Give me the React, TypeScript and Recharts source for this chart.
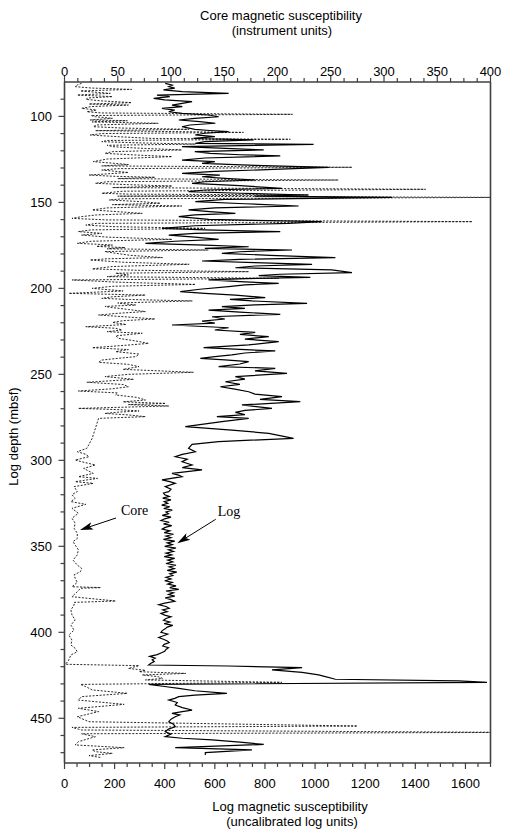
import React from 'react';
import { ComposedChart, Line, XAxis, YAxis } from 'recharts';

// [depth (mbsf), core susceptibility (instrument units)]
const coreSamples = [
  [80.8, 16], [81.7, 12], [82.7, 10], [83.5, 25], [84.3, 63], [85.2, 15], [85.9, 28], [86.6, 43],
  [87.6, 12], [88.5, 45], [89.3, 22], [90.1, 20], [91.0, 35], [92.0, 63], [92.8, 23], [93.4, 60],
  [94.3, 25], [95.3, 16], [96.3, 30], [97.3, 21], [98.0, 35], [98.8, 214], [99.5, 25], [100.2, 29],
  [101.1, 45], [102.1, 24], [102.5, 59], [103.2, 26], [104.0, 88], [105.0, 30], [106.0, 27], [106.8, 55],
  [107.5, 117], [108.3, 29], [109.3, 168], [110.0, 35], [110.8, 24], [111.8, 50], [112.8, 82], [113.3, 212],
  [114.0, 40], [114.7, 35], [115.4, 70], [116.1, 123], [116.8, 40], [117.6, 45], [118.5, 70], [119.5, 110],
  [120.5, 45], [121.5, 38], [122.4, 65], [123.4, 101], [124.8, 40], [126.3, 27], [127.2, 45], [128.0, 60],
  [128.8, 35], [129.6, 270], [130.4, 50], [131.2, 35], [132.6, 60], [134.1, 23], [134.8, 45], [135.4, 85],
  [136.2, 50], [137.0, 257], [138.0, 40], [138.9, 29], [139.7, 60], [140.5, 101], [141.4, 45], [142.4, 339],
  [143.5, 55], [144.7, 35], [145.2, 60], [145.7, 229], [146.4, 50], [147.1, 420], [147.9, 55], [148.6, 42],
  [149.5, 70], [150.5, 90], [151.3, 45], [152.1, 110], [153.2, 40], [154.4, 26], [155.4, 50], [156.4, 73],
  [157.3, 30], [158.3, 16], [159.3, 7], [160.2, 40], [161.2, 383], [162.2, 30], [163.2, 20], [164.1, 45],
  [165.1, 132], [166.0, 25], [167.0, 13], [168.0, 35], [169.0, 16], [170.2, 40], [171.5, 101], [172.6, 25],
  [173.8, 12], [174.8, 45], [175.6, 30], [176.3, 57], [177.0, 40], [177.7, 135], [178.6, 38], [179.6, 48],
  [180.8, 62], [182.1, 92], [182.8, 40], [183.5, 24], [184.8, 55], [186.0, 117], [187.3, 45], [188.7, 26],
  [189.5, 70], [190.3, 173], [191.2, 48], [192.2, 60], [193.2, 40], [194.2, 201], [195.1, 7], [196.4, 50],
  [197.7, 123], [198.8, 45], [200.0, 26], [201.5, 55], [202.9, 4], [203.9, 76], [204.9, 45], [205.8, 35],
  [206.5, 62], [207.3, 120], [208.5, 50], [209.7, 67], [210.5, 38], [211.2, 45], [212.3, 60], [213.5, 76],
  [214.5, 50], [215.5, 32], [216.6, 58], [217.8, 85], [218.8, 55], [219.8, 45], [221.0, 58], [222.3, 20],
  [223.2, 48], [224.2, 54], [225.2, 40], [226.1, 73], [227.6, 48], [229.1, 51], [230.5, 66], [232.0, 79],
  [233.2, 55], [234.5, 26], [235.6, 60], [236.8, 48], [238.2, 70], [239.7, 67], [240.7, 50], [241.7, 35],
  [243.0, 32], [244.2, 60], [245.5, 70], [247.1, 55], [248.8, 121], [250.0, 60], [251.3, 38], [252.9, 65],
  [254.6, 21], [255.9, 55], [257.2, 60], [258.4, 45], [259.7, 13], [260.8, 50], [262.0, 48], [263.4, 68],
  [264.9, 76], [266.0, 55], [266.9, 95], [267.6, 60], [268.4, 98], [269.8, 13], [270.5, 50], [271.3, 70],
  [272.0, 50], [272.7, 38], [273.6, 60], [274.6, 76], [275.6, 32], [287.2, 26], [293.0, 21], [295.0, 12],
  [296.5, 20], [297.9, 23], [299.8, 10], [300.8, 16], [302.7, 29], [304.7, 18], [307.6, 27], [309.5, 13],
  [310.5, 31], [312.4, 10], [313.4, 27], [315.3, 9], [318.2, 12], [320.0, 7], [322.1, 10], [324.0, 6],
  [325.6, 20], [327.9, 7], [330.8, 13], [333.7, 7], [336.5, 10], [339.5, 9], [342.5, 12], [345.4, 12],
  [347.3, 8], [349.2, 10], [352.0, 13], [355.0, 12], [358.0, 8], [360.9, 12], [362.8, 16], [364.7, 15],
  [366.6, 9], [368.6, 10], [371.0, 12], [373.5, 7], [374.0, 34], [374.4, 15], [376.4, 12], [379.3, 7],
  [381.8, 48], [382.6, 9], [384.1, 9], [387.0, 6], [389.9, 7], [392.8, 10], [395.8, 6], [398.7, 9],
  [401.6, 4], [404.5, 7], [407.4, 6], [409.3, 10], [411.3, 12], [413.2, 6], [416.1, 4], [418.6, 1],
  [419.4, 70], [421.0, 60], [422.1, 76], [422.9, 70], [423.9, 114], [424.8, 73], [425.8, 88], [426.8, 92],
  [427.7, 76], [429.1, 204], [430.3, 15], [431.6, 20], [433.5, 26], [435.5, 59], [437.4, 16], [439.4, 13],
  [441.9, 56], [444.2, 13], [446.1, 32], [449.1, 12], [452.0, 23], [454.5, 275], [455.3, 7], [456.8, 16],
  [458.2, 420], [459.0, 16], [460.7, 29], [463.6, 13], [465.5, 10], [467.1, 56], [468.4, 26], [469.4, 29],
  [470.4, 45], [471.7, 23], [472.9, 35],
];

// [depth (mbsf), log susceptibility (uncalibrated log units)]
const logSamples = [
  [80.8, 402], [81.8, 430], [82.7, 416], [83.6, 440], [84.6, 395], [85.6, 470], [86.6, 655], [87.6, 369],
  [88.5, 420], [89.5, 356], [90.4, 400], [91.4, 509], [92.4, 470], [93.4, 429], [94.3, 470], [95.3, 389],
  [96.3, 440], [97.3, 416], [98.2, 470], [99.2, 575], [100.2, 615], [101.1, 520], [102.1, 456], [103.0, 540],
  [104.0, 602], [105.0, 500], [106.0, 469], [107.5, 520], [108.2, 580], [108.9, 655], [109.8, 560], [110.8, 522],
  [111.8, 600], [112.8, 515], [113.7, 755], [114.7, 560], [115.7, 522], [116.3, 994], [117.6, 469], [118.5, 620],
  [119.5, 795], [120.5, 520], [121.5, 582], [122.3, 700], [123.0, 861], [124.2, 560], [125.4, 469], [126.3, 600],
  [127.3, 549], [128.5, 760], [129.6, 1054], [130.8, 835], [132.0, 600], [133.1, 469], [134.1, 620], [135.1, 549],
  [136.0, 640], [137.0, 761], [138.0, 560], [138.9, 509], [140.3, 700], [141.8, 868], [142.8, 560], [143.8, 495],
  [144.7, 700], [145.7, 974], [146.4, 760], [147.1, 1307], [148.3, 640], [149.6, 522], [150.8, 720], [152.1, 934],
  [153.2, 600], [154.4, 495], [155.4, 580], [156.4, 682], [157.3, 520], [158.3, 456], [159.9, 575], [161.2, 1027],
  [162.2, 894], [163.6, 520], [165.1, 389], [166.0, 560], [167.0, 861], [168.0, 520], [169.0, 416], [170.2, 520],
  [171.5, 615], [172.6, 440], [173.8, 323], [174.8, 560], [175.8, 735], [176.8, 560], [177.7, 908], [178.7, 700],
  [179.6, 628], [180.8, 820], [182.1, 1081], [183.1, 700], [184.1, 549], [185.0, 760], [186.0, 988], [187.0, 760],
  [188.0, 682], [189.3, 1067], [190.9, 1147], [191.8, 860], [192.6, 775], [193.6, 981], [194.3, 720], [195.1, 575],
  [196.1, 700], [197.1, 855], [198.0, 720], [199.0, 655], [200.5, 540], [201.9, 462], [202.9, 560], [203.9, 682],
  [205.4, 801], [206.4, 660], [207.3, 748], [208.7, 968], [209.6, 760], [210.6, 628], [211.6, 720], [212.6, 575],
  [213.8, 700], [215.1, 861], [216.5, 589], [217.8, 640], [219.0, 549], [220.2, 600], [221.3, 429], [222.9, 655],
  [224.2, 600], [225.6, 761], [226.8, 700], [228.1, 815], [229.5, 720], [231.0, 855], [232.9, 735], [234.5, 555],
  [235.5, 700], [236.4, 841], [237.6, 720], [238.7, 668], [239.7, 600], [240.7, 542], [241.6, 640], [242.6, 735],
  [244.0, 700], [245.5, 615], [246.5, 841], [248.0, 760], [249.4, 888], [251.3, 682], [252.8, 720], [254.3, 642],
  [255.8, 700], [257.2, 622], [258.6, 680], [260.1, 735], [261.5, 760], [263.0, 868], [264.5, 780], [265.9, 941],
  [267.8, 708], [269.8, 828], [271.0, 720], [272.1, 682], [273.4, 720], [274.6, 608], [275.6, 735], [277.5, 628],
  [280.4, 482], [282.4, 668], [284.3, 815], [287.2, 914], [289.1, 615], [290.7, 509], [293.0, 495], [295.0, 522],
  [296.5, 470], [297.9, 442], [299.3, 490], [300.8, 469], [302.7, 509], [304.2, 470], [305.6, 549], [307.6, 429],
  [308.6, 455], [309.5, 469], [311.4, 389], [312.4, 420], [313.4, 442], [315.3, 402], [316.8, 425], [318.2, 416],
  [319.0, 395], [320, 400], [321, 418], [322, 392], [323, 425], [324, 398], [325, 412], [326, 388],
  [327, 420], [328, 396], [329, 430], [330, 405], [331, 415], [332, 390], [333, 425], [334, 400],
  [335, 385], [336, 418], [337, 395], [338, 428], [339, 402], [340, 390], [341, 420], [342, 398],
  [343, 435], [344, 405], [345, 425], [346, 395], [347, 440], [348, 410], [349, 430], [350, 400],
  [351, 445], [352, 415], [353, 435], [354, 405], [355, 428], [356, 398], [357, 440], [358, 412],
  [359, 432], [360, 405], [361, 445], [362, 418], [363, 438], [364, 410], [365, 448], [366, 420],
  [367, 432], [368, 405], [369, 425], [370, 400], [371, 430], [372, 412], [373, 445], [374, 420],
  [375, 456], [376, 405], [377, 435], [378, 415], [379, 440], [380, 402], [381, 425], [382, 440],
  [383, 400], [384, 376], [385, 405], [386, 418], [387, 392], [388, 410], [389, 385], [390, 400],
  [391, 425], [392, 405], [393, 395], [394, 420], [395, 398], [396, 432], [397, 410], [398, 402],
  [399, 390], [400, 385], [401, 412], [402, 395], [403, 376], [404, 395], [405, 410], [406, 418],
  [407, 398], [408, 392], [409, 415], [410, 405], [411, 400], [412, 385], [413, 370], [414, 340],
  [415, 362], [416, 350], [417, 358], [418, 345], [419.0, 336], [419.6, 655], [420.5, 948], [421.9, 828],
  [423.3, 948], [424.8, 1014], [425.8, 1041], [427.3, 1081], [428.3, 1573], [429.1, 1686], [430.3, 336], [431.5, 400],
  [432.6, 456], [434.0, 520], [435.5, 648], [436.5, 520], [437.4, 456], [438.4, 440], [439.4, 416], [440.8, 450],
  [442.3, 442], [443.8, 470], [445.2, 509], [446.1, 470], [447.1, 429], [448.1, 460], [449.1, 442], [450.5, 425],
  [452.0, 416], [453.5, 435], [454.9, 442], [456.3, 415], [457.8, 402], [459.2, 425], [460.7, 402], [461.6, 470],
  [462.6, 589], [463.9, 700], [465.2, 795], [467.1, 442], [468.4, 748], [470.0, 562], [471.3, 562],
];

const coreLabels = [0, 50, 100, 150, 200, 250, 300, 350, 400];
const logLabels = [0, 200, 400, 600, 800, 1000, 1200, 1400, 1600];
const depthLabels = [100, 150, 200, 250, 300, 350, 400, 450];

const coreData = coreSamples.map(([depth, core]) => ({ depth, core }));
const logData = logSamples.map(([depth, log]) => ({ depth, log }));

function range(from: number, to: number, step: number) {
  const out: number[] = [];
  for (let v = from; v <= to + 1e-6; v += step) out.push(Math.round(v * 10) / 10);
  return out;
}
const coreTicks = range(0, 400, 12.5);
const logTicks = range(0, 1700, 50);
const depthTicks = range(90, 470, 10);

const AXIS = '#404040';
const SANS = '"Liberation Sans", Arial, Helvetica, sans-serif';
const SERIF = '"Liberation Serif", "Times New Roman", serif';

function TopTick(props: any) {
  const { x, y, payload } = props;
  const major = coreLabels.includes(payload.value);
  return (
    <g>
      <line x1={x} x2={x} y1={y} y2={y - (major ? 6.5 : 4)} stroke={AXIS} strokeWidth={1.2} />
      {major && (
        <text x={x} y={y - 6} textAnchor="middle" fontSize={13} fontFamily={SANS} fill="#000">
          {payload.value}
        </text>
      )}
    </g>
  );
}

function BottomTick(props: any) {
  const { x, y, payload } = props;
  const major = logLabels.includes(payload.value);
  return (
    <g>
      <line x1={x} x2={x} y1={y} y2={y + (major ? 6 : 4)} stroke={AXIS} strokeWidth={1.2} />
      {major && (
        <text x={x} y={y + 25} textAnchor="middle" fontSize={13} fontFamily={SANS} fill="#000">
          {payload.value}
        </text>
      )}
    </g>
  );
}

function LeftTick(props: any) {
  const { x, y, payload } = props;
  const major = depthLabels.includes(payload.value);
  return (
    <g>
      <line x1={x} x2={x - (major ? 6 : 4)} y1={y} y2={y} stroke={AXIS} strokeWidth={1.2} />
      {major && (
        <text x={x - 12.5} y={y + 4.6} textAnchor="end" fontSize={13} fontFamily={SANS} fill="#000">
          {payload.value}
        </text>
      )}
    </g>
  );
}

function RightTick(props: any) {
  const { x, y, payload } = props;
  const major = depthLabels.includes(payload.value);
  return <line x1={x} x2={x + (major ? 6 : 4)} y1={y} y2={y} stroke={AXIS} strokeWidth={1.2} />;
}

function Arrow({ x1, y1, x2, y2 }: { x1: number; y1: number; x2: number; y2: number }) {
  const len = Math.hypot(x2 - x1, y2 - y1);
  const ux = (x2 - x1) / len;
  const uy = (y2 - y1) / len;
  const hl = 13;
  const hw = 3.8;
  const bx = x2 - ux * hl;
  const by = y2 - uy * hl;
  const nx = x2 - ux * (hl - 3);
  const ny = y2 - uy * (hl - 3);
  const pts = `${x2},${y2} ${bx - uy * hw},${by + ux * hw} ${nx},${ny} ${bx + uy * hw},${by - ux * hw}`;
  return (
    <g>
      <line x1={x1} y1={y1} x2={nx} y2={ny} stroke="#000" strokeWidth={1} />
      <polygon points={pts} fill="#000" />
    </g>
  );
}

export default function App() {
  return (
    <div style={{ position: 'absolute', left: 0, top: 0, width: 515, height: 837, background: '#fff' }}>
      <ComposedChart
        width={515}
        height={837}
        layout="vertical"
        margin={{ top: 0, right: 0, bottom: 0, left: 0 }}
      >
        <XAxis
          xAxisId="core"
          orientation="top"
          type="number"
          domain={[0, 400]}
          allowDataOverflow
          ticks={coreTicks}
          interval={0}
          height={82}
          tickSize={0}
          tickMargin={0}
          tickLine={false}
          tick={<TopTick />}
          axisLine={{ stroke: AXIS, strokeWidth: 1.6 }}
        />
        <XAxis
          xAxisId="log"
          orientation="bottom"
          type="number"
          domain={[0, 1700]}
          allowDataOverflow
          ticks={logTicks}
          interval={0}
          height={74}
          tickSize={0}
          tickMargin={0}
          tickLine={false}
          tick={<BottomTick />}
          axisLine={{ stroke: AXIS, strokeWidth: 1.6 }}
        />
        <YAxis
          yAxisId="d"
          orientation="left"
          type="number"
          dataKey="depth"
          domain={[80, 476]}
          allowDataOverflow
          ticks={depthTicks}
          interval={0}
          width={64.5}
          tickSize={0}
          tickMargin={0}
          tickLine={false}
          tick={<LeftTick />}
          axisLine={{ stroke: AXIS, strokeWidth: 1.6 }}
        />
        <YAxis
          yAxisId="r"
          orientation="right"
          type="number"
          domain={[80, 476]}
          allowDataOverflow
          ticks={depthTicks}
          interval={0}
          width={24.5}
          tickSize={0}
          tickMargin={0}
          tickLine={false}
          tick={<RightTick />}
          axisLine={{ stroke: AXIS, strokeWidth: 1.6 }}
        />
        <Line
          data={coreData}
          dataKey="core"
          xAxisId="core"
          yAxisId="d"
          type="linear"
          stroke="#111"
          strokeWidth={0.9}
          strokeDasharray="2 1.5"
          dot={false}
          isAnimationActive={false}
        />
        <Line
          data={logData}
          dataKey="log"
          xAxisId="log"
          yAxisId="d"
          type="linear"
          stroke="#000"
          strokeWidth={1.2}
          dot={false}
          isAnimationActive={false}
        />
      </ComposedChart>
      <svg
        width={515}
        height={837}
        style={{ position: 'absolute', left: 0, top: 0, pointerEvents: 'none' }}
      >
        <g fontFamily={SANS} fontSize={13} fill="#000" textAnchor="middle">
          <text x={281} y={20}>Core magnetic susceptibility</text>
          <text x={282} y={35}>(instrument units)</text>
          <text x={290} y={811}>Log magnetic susceptibility</text>
          <text x={292} y={825.5}>(uncalibrated log units)</text>
          <text x={17.6} y={436.5} transform="rotate(-90 17.6 436.5)">
            Log depth (mbsf)
          </text>
        </g>
        <g fontFamily={SERIF} fontSize={14} fill="#000">
          <text x={121} y={515}>Core</text>
          <text x={217.7} y={516}>Log</text>
        </g>
        <Arrow x1={116} y1={518} x2={80} y2={530} />
        <Arrow x1={215.7} y1={519.3} x2={177.3} y2={543.3} />
      </svg>
    </div>
  );
}
